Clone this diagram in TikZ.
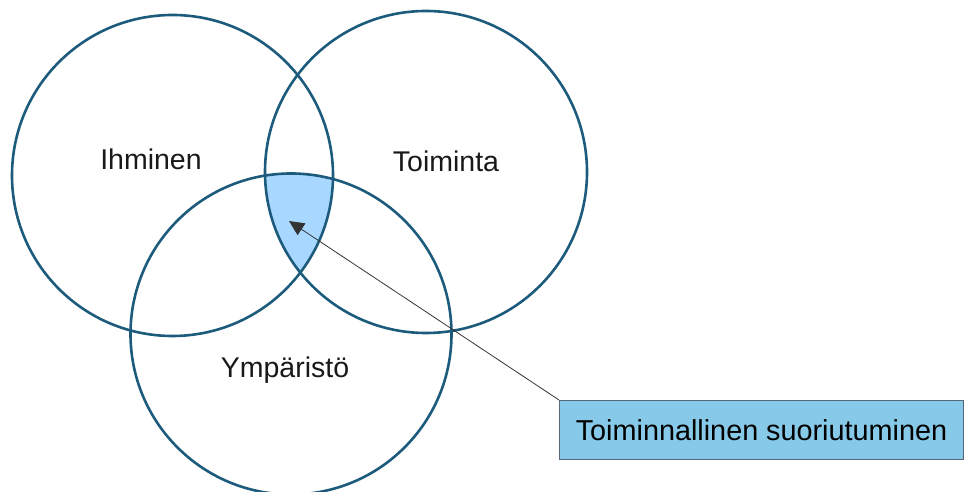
\documentclass[tikz,border=0pt]{standalone}
\usepackage{fontspec}
\setmainfont{Liberation Sans}
\usetikzlibrary{arrows.meta}
\definecolor{ring}{HTML}{1D5B7C}
\definecolor{lens}{HTML}{A8D8FF}
\definecolor{boxfill}{HTML}{87C9E8}
\definecolor{boxline}{HTML}{56687A}
\begin{document}
\begin{tikzpicture}[x=1pt,y=1pt,
  ringstyle/.style={draw=ring,line width=2.6pt},
  lbl/.style={font=\fontsize{28.5}{31}\selectfont,text=black!90},
  callout/.style={draw=boxline,line width=1pt,fill=boxfill,minimum width=404pt,minimum height=59pt,inner sep=0pt,font=\fontsize{28.8}{31}\selectfont}]
\useasboundingbox (0,0) rectangle (964,492);
\coordinate (cL) at (172.5,316.5);
\coordinate (cR) at (426,320);
\coordinate (cB) at (291,158);
\begin{scope}
  \clip (cL) circle (160.5);
  \clip (cR) circle (161);
  \fill[lens] (cB) circle (160.5);
\end{scope}
\draw[ringstyle] (cL) circle (160.5);
\draw[ringstyle] (cR) circle (161);
\draw[ringstyle] (cB) circle (160.5);
\node[lbl] (ih) at (151,333) {Ihminen};
\node[lbl] (to) at (446,331) {Toiminta};
\node[lbl] (ym) at (285,122) {Ympäristö};
\node[callout,anchor=north west] (box) at (559,92) {Toiminnallinen suoriutuminen};
\coordinate (tip) at (289,271);
\draw[line width=0.8pt,black!80,-{Triangle[length=15pt,width=14pt]}] (box.north west) -- (tip);
\end{tikzpicture}
\end{document}
